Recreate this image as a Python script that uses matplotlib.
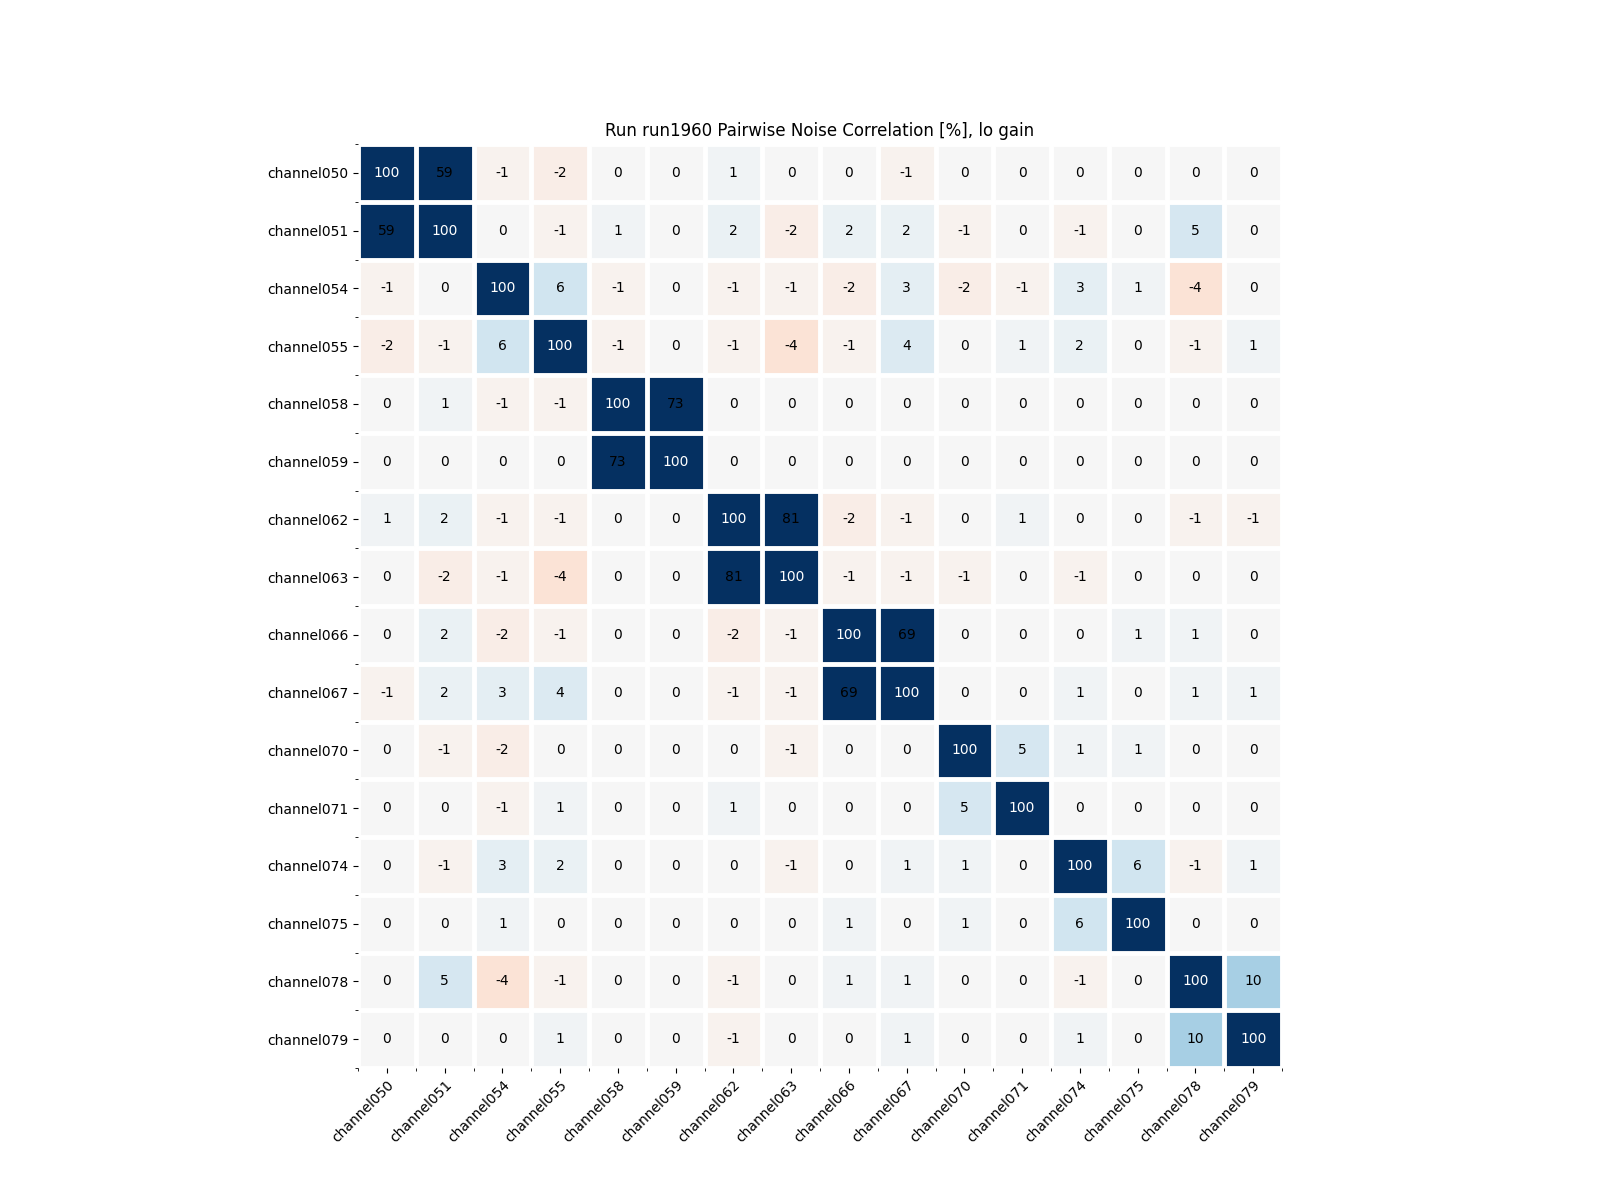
import numpy as np
import matplotlib
matplotlib.use("Agg")
import matplotlib.pyplot as plt

# channel names
channels = ["channel050", "channel051", "channel054", "channel055",
            "channel058", "channel059", "channel062", "channel063",
            "channel066", "channel067", "channel070", "channel071",
            "channel074", "channel075", "channel078", "channel079"]

# pairwise noise correlation [%] (as printed in the cells)
corr = [
    [100, 59, -1, -2, 0, 0, 1, 0, 0, -1, 0, 0, 0, 0, 0, 0],
    [59, 100, 0, -1, 1, 0, 2, -2, 2, 2, -1, 0, -1, 0, 5, 0],
    [-1, 0, 100, 6, -1, 0, -1, -1, -2, 3, -2, -1, 3, 1, -4, 0],
    [-2, -1, 6, 100, -1, 0, -1, -4, -1, 4, 0, 1, 2, 0, -1, 1],
    [0, 1, -1, -1, 100, 73, 0, 0, 0, 0, 0, 0, 0, 0, 0, 0],
    [0, 0, 0, 0, 73, 100, 0, 0, 0, 0, 0, 0, 0, 0, 0, 0],
    [1, 2, -1, -1, 0, 0, 100, 81, -2, -1, 0, 1, 0, 0, -1, -1],
    [0, -2, -1, -4, 0, 0, 81, 100, -1, -1, -1, 0, -1, 0, 0, 0],
    [0, 2, -2, -1, 0, 0, -2, -1, 100, 69, 0, 0, 0, 1, 1, 0],
    [-1, 2, 3, 4, 0, 0, -1, -1, 69, 100, 0, 0, 1, 0, 1, 1],
    [0, -1, -2, 0, 0, 0, 0, -1, 0, 0, 100, 5, 1, 1, 0, 0],
    [0, 0, -1, 1, 0, 0, 1, 0, 0, 0, 5, 100, 0, 0, 0, 0],
    [0, -1, 3, 2, 0, 0, 0, -1, 0, 1, 1, 0, 100, 6, -1, 1],
    [0, 0, 1, 0, 0, 0, 0, 0, 1, 0, 1, 0, 6, 100, 0, 0],
    [0, 5, -4, -1, 0, 0, -1, 0, 1, 1, 0, 0, -1, 0, 100, 10],
    [0, 0, 0, 1, 0, 0, -1, 0, 0, 1, 0, 0, 1, 0, 10, 100],
]

run_name = "run1960"
gain = "lo"

data = np.array(corr)
n = len(channels)

fig, ax = plt.subplots(figsize=(16, 12), dpi=100)
ax.imshow(data, cmap="RdBu", vmin=-30, vmax=30)

# annotate each cell
for i in range(n):
    for j in range(n):
        val = data[i, j]
        color = "w" if val > 90 else "k"
        ax.text(j, i, f"{val:d}", ha="center", va="center", color=color, fontsize=10)

ax.set_xticks(np.arange(n))
ax.set_yticks(np.arange(n))
ax.set_xticklabels(channels)
ax.set_yticklabels(channels)
plt.setp(ax.get_xticklabels(), rotation=45, ha="right", rotation_mode="anchor")

# white separators between the cells
ax.set_xticks(np.arange(n + 1) - 0.5, minor=True)
ax.set_yticks(np.arange(n + 1) - 0.5, minor=True)
ax.grid(which="minor", color="w", linestyle="-", linewidth=3.5)
for spine in ax.spines.values():
    spine.set_visible(False)

ax.set_title(f"Run {run_name} Pairwise Noise Correlation [%], {gain} gain")

fig.savefig("out.png")
